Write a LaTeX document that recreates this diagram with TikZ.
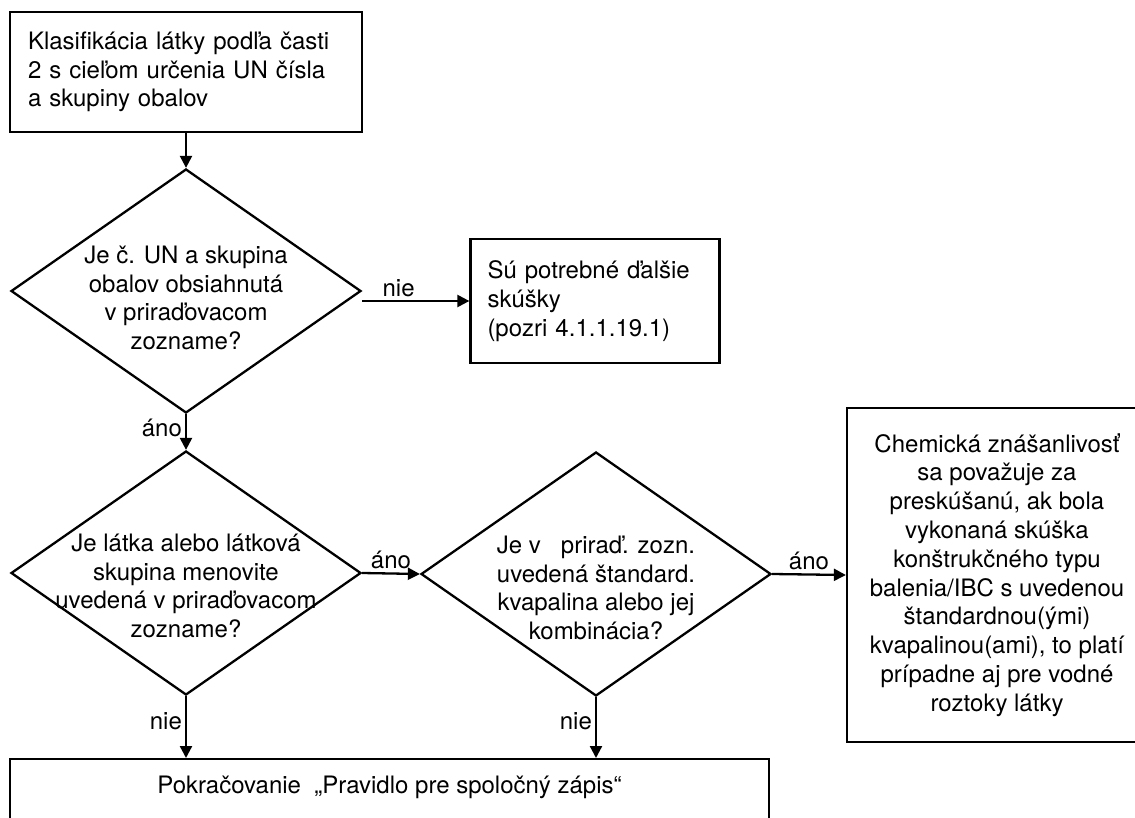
\documentclass[tikz,border=0pt]{standalone}
\usepackage{fontspec}
\setmainfont{TeX Gyre Heros}
\usetikzlibrary{shapes.geometric, arrows.meta, positioning}

\begin{document}
\begin{tikzpicture}[x=1pt, y=-1pt,
            font=\fontsize{24}{28.8}\selectfont,
            box/.style={draw, line width=2.3pt, rectangle, inner sep=0pt},
            dia/.style={draw, line width=2.3pt, diamond, inner sep=0pt, minimum width=350pt, minimum height=244pt},
            txt/.style={align=center, inner sep=0pt},
            arr/.style={draw, line width=2.3pt, -{Triangle[length=12pt, width=12pt]}},
            lab/.style={inner sep=3pt}]
            \useasboundingbox (0,0) rectangle (1135,818);
            \clip (0,0) rectangle (1135,818);
            \node[box, minimum width=352pt, minimum height=120pt, text width=316pt, align=left] (b1) at (186,72)
                {Klasifikácia látky podľa časti\\2 s cieľom určenia UN čísla\\a skupiny obalov};
            \node[dia] (d1) at (186,291) {};
            \node[txt] (t1) at (186,298) {Je č. UN a skupina\\obalov obsiahnutá\\v priraďovacom\\zozname?};
            \node[box, minimum width=249pt, minimum height=124pt, text width=215pt, align=left] (b2) at (595,301)
                {Sú potrebné ďalšie\\skúšky\\(pozri 4.1.1.19.1)};
            \node[dia] (d2) at (186,573) {};
            \node[txt] (t2) at (186,586) {Je látka alebo látková\\skupina menovite\\uvedená v priraďovacom\\zozname?};
            \node[dia] (d3) at (596,574) {};
            \node[txt] (t3) at (596,588) {Je v~~~priraď. zozn.\\uvedená štandard.\\kvapalina alebo jej\\kombinácia?};
            \node[box, minimum width=300pt, minimum height=334pt, align=center] (b3) at (997,575)
                {Chemická znášanlivosť\\sa považuje za\\preskúšanú, ak bola\\vykonaná skúška\\konštrukčného typu\\balenia/IBC s uvedenou\\štandardnou(ými)\\kvapalinou(ami), to platí\\prípadne aj pre vodné\\roztoky látky};
            \node[box, minimum width=759pt, minimum height=120pt, anchor=north] (b4) at (389.5,758) {};
            \node[txt] (t4) at (389.5,787) {Pokračovanie\ \ „Pravidlo pre spoločný zápis“};
            \draw[arr] (b1.south) -- (d1.north);
            \draw[arr] (d1.east |- b2.west) -- node[lab, above, pos=0.34] {nie} (b2.west);
            \draw[arr] (d1.south) -- node[lab, left, pos=0.4] {áno} (d2.north);
            \draw[arr] (d2.east) -- node[lab, above] {áno} (d3.west);
            \draw[arr] (d3.east) -- node[lab, above] {áno} (b3.west);
            \draw[arr] (d2.south) -- node[lab, left, pos=0.4] {nie} (d2.south |- b4.north);
            \draw[arr] (d3.south) -- node[lab, left, pos=0.4] {nie} (d3.south |- b4.north);
        \end{tikzpicture}
\end{document}
